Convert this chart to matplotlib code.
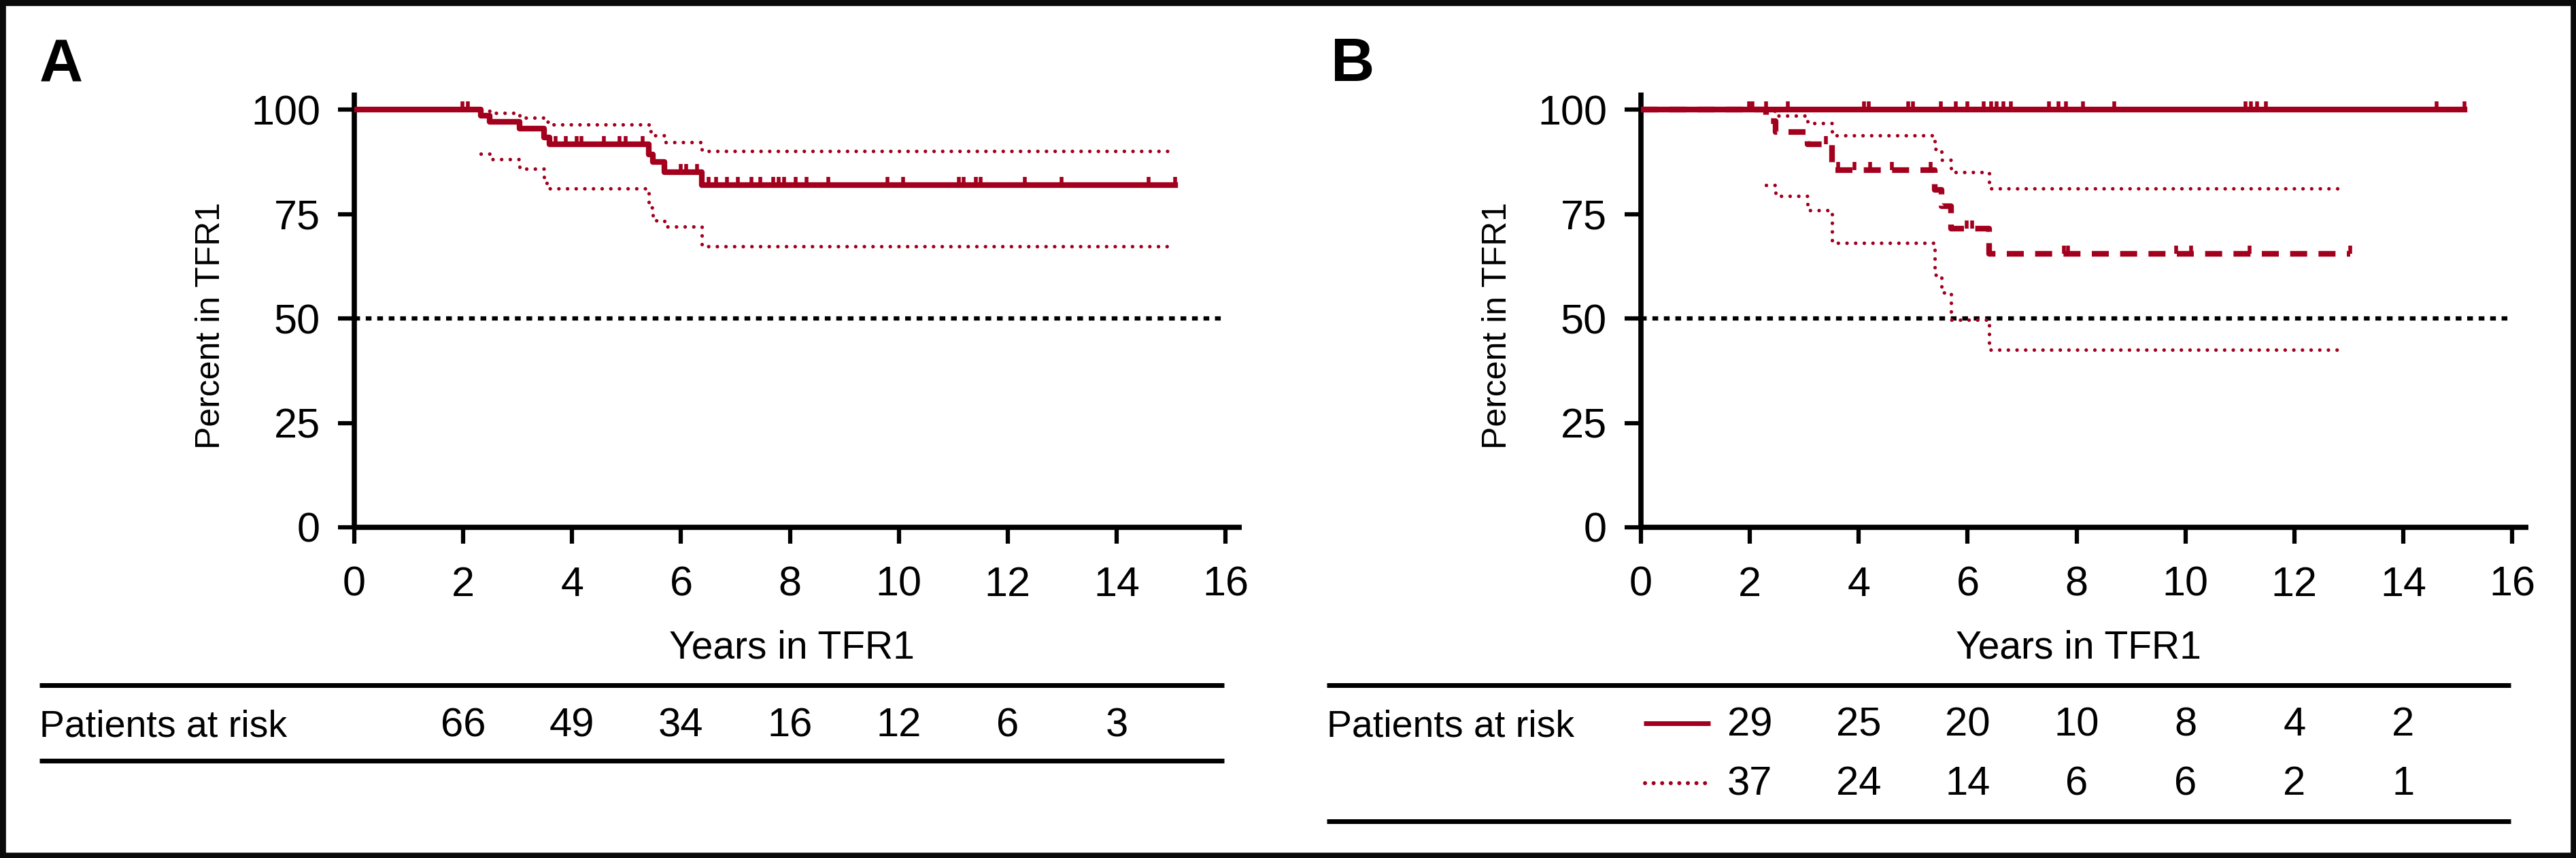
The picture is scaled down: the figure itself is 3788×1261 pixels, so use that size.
import numpy as np
from matplotlib import pyplot as plt
from matplotlib import font_manager
from matplotlib.lines import Line2D
from matplotlib.patches import Rectangle
from matplotlib.transforms import blended_transform_factory

RED = '#A3001E'

x_ticks = [0, 2, 4, 6, 8, 10, 12, 14, 16]
y_ticks = [0, 25, 50, 75, 100]

# patients at risk
risk_times = [2, 4, 6, 8, 10, 12, 14]
risk_a = [66, 49, 34, 16, 12, 6, 3]
risk_b_solid = [29, 25, 20, 10, 8, 4, 2]
risk_b_dotted = [37, 24, 14, 6, 6, 2, 1]

# panel A: all patients
a_times = [0, 2.32, 2.49, 3.03, 3.49, 3.59, 5.41, 5.48, 5.70, 6.38, 15.08]
a_surv = [100, 98.6, 97.0, 95.4, 93.3, 91.7, 89.2, 87.4, 85.0, 82.0, 82.0]
a_ci_times = [2.32, 2.49, 3.03, 3.49, 3.59, 5.41, 5.48, 5.70, 6.38, 15.03]
a_upper = [99.7, 99.2, 98.1, 97.0, 96.5, 94.8, 93.8, 92.2, 90.1, 90.1]
a_lower = [89.4, 88.1, 85.8, 82.4, 81.1, 76.6, 73.5, 72.0, 67.3, 67.3]
a_censor = [1.99, 2.08, 3.70, 3.89, 4.08, 4.17, 4.59, 4.87, 4.98, 5.29, 5.99, 6.10,
            6.30, 6.51, 6.65, 6.84, 7.05, 7.29, 7.46, 7.70, 7.79, 7.89, 8.11, 8.30,
            8.70, 9.79, 10.08, 11.10, 11.19, 11.41, 11.50, 12.31, 12.99, 14.59, 15.08]

# panel B: group 1 (solid) and group 2 (dashed + CI)
b1_times = [0, 15.12]
b1_surv = [100, 100]
b1_censor = [1.98, 2.05, 2.30, 2.70, 4.10, 4.19, 4.91, 5.00, 5.51, 5.78, 5.99, 6.30,
             6.43, 6.53, 6.66, 6.80, 7.50, 7.67, 7.81, 8.12, 8.69, 11.10, 11.20, 11.31,
             11.48, 14.61, 15.12]

b2_times = [0, 2.30, 2.47, 3.06, 3.51, 5.40, 5.52, 5.70, 6.40, 13.03]
b2_surv = [100, 97.3, 94.6, 91.7, 85.5, 80.8, 76.8, 71.5, 65.5, 65.5]
b2_ci_times = [2.30, 2.47, 3.06, 3.51, 5.40, 5.52, 5.70, 6.40, 12.9]
b2_upper = [99.6, 98.5, 96.8, 93.8, 90.6, 88.0, 85.0, 81.1, 81.1]
b2_lower = [81.9, 79.4, 75.9, 68.1, 60.5, 56.2, 49.7, 42.5, 42.5]
b2_censor = [3.40, 3.62, 3.92, 4.21, 4.61, 5.32, 5.98, 6.08, 7.77, 7.85, 9.83, 10.10,
             11.18, 13.03]

names = {f.name for f in font_manager.fontManager.ttflist}
if 'Liberation Sans Narrow' in names:
    ylab_font = dict(family=['Liberation Sans Narrow', 'Liberation Sans'], size=43)
else:
    ylab_font = dict(family=['Liberation Sans'], size=36)

plt.rcParams['font.family'] = ['Liberation Sans', 'DejaVu Sans']

DOT = (0, (0.01, 2.4))


def step_at(times, surv, t):
    i = np.searchsorted(times, t, side='right') - 1
    return np.asarray(surv)[i]


def draw_censor(ax, times, surv, censor):
    ys = [step_at(times, surv, t) for t in censor]
    ax.vlines(censor, ys, np.array(ys) + 1.9, color=RED, lw=4, zorder=4)


def setup_axes(ax):
    ax.set_xlim(0, 16.3)
    ax.set_ylim(0, 104)
    for s in ['top', 'right']:
        ax.spines[s].set_visible(False)
    for s in ['left', 'bottom']:
        ax.spines[s].set_linewidth(5.5)
        ax.spines[s].set_capstyle('butt')
    ax.set_xticks(x_ticks)
    ax.set_yticks(y_ticks)
    ax.tick_params(axis='both', direction='out', length=17, width=4.5, labelsize=44)
    ax.tick_params(axis='x', pad=24)
    ax.tick_params(axis='y', pad=19)
    ax.hlines(50, 0, 16, color='black', lw=4.5, linestyles=(0, (1.35, 1.35)), zorder=2)
    ax.text(8.04 / 16.3, -0.302, 'Years in TFR1', transform=ax.transAxes,
            ha='center', va='baseline', fontsize=41)
    ax.text(-0.1517, 0.4643, 'Percent in TFR1', transform=ax.transAxes,
            rotation=90, rotation_mode='anchor', ha='center', va='baseline', **ylab_font)


fig = plt.figure(figsize=(37.88, 12.61), dpi=100)
ax_a = fig.add_axes([0.13754, 0.38541, 0.34452, 0.50637])
ax_b = fig.add_axes([0.63701, 0.38541, 0.34452, 0.50637])
setup_axes(ax_a)
setup_axes(ax_b)

# Panel A
ax_a.step(a_ci_times, a_upper, where='post', color=RED, lw=3.8, linestyle=DOT,
          dash_capstyle='round', zorder=3)
ax_a.step(a_ci_times, a_lower, where='post', color=RED, lw=3.8, linestyle=DOT,
          dash_capstyle='round', zorder=3)
ax_a.step(a_times, a_surv, where='post', color=RED, lw=6, zorder=4)
draw_censor(ax_a, a_times, a_surv, a_censor)

# Panel B
ax_b.step(b2_ci_times, b2_upper, where='post', color=RED, lw=3.8, linestyle=DOT,
          dash_capstyle='round', zorder=3)
ax_b.step(b2_ci_times, b2_lower, where='post', color=RED, lw=3.8, linestyle=DOT,
          dash_capstyle='round', zorder=3)
ax_b.step(b2_times, b2_surv, where='post', color=RED, lw=6, linestyle=(0, (3.0, 2.0)),
          zorder=4)
draw_censor(ax_b, b2_times, b2_surv, b2_censor)
ax_b.step(b1_times, b1_surv, where='post', color=RED, lw=6, zorder=5)
draw_censor(ax_b, b1_times, b1_surv, b1_censor)

# panel letters
fig.text(0.01531, 0.9048, 'A', fontsize=64, fontweight='bold', ha='left', va='baseline')
fig.text(0.5166, 0.9056, 'B', fontsize=64, fontweight='bold', ha='left', va='baseline')

# risk tables
for x0, x1, y in [(0.01531, 0.4752, 0.2014), (0.01531, 0.4752, 0.1134),
                  (0.5150, 0.9747, 0.2014), (0.5150, 0.9747, 0.0428)]:
    fig.add_artist(Line2D([x0, x1], [y, y], transform=fig.transFigure, color='black',
                          lw=5, solid_capstyle='butt'))

fig.text(0.01531, 0.1419, 'Patients at risk', fontsize=40, ha='left', va='baseline')
fig.text(0.5150, 0.1419, 'Patients at risk', fontsize=40, ha='left', va='baseline')

tr_a = blended_transform_factory(ax_a.transData, fig.transFigure)
tr_b = blended_transform_factory(ax_b.transData, fig.transFigure)
for t, n in zip(risk_times, risk_a):
    fig.text(t, 0.1419, str(n), transform=tr_a, fontsize=43, ha='center', va='baseline')
for t, n in zip(risk_times, risk_b_solid):
    fig.text(t, 0.1427, str(n), transform=tr_b, fontsize=43, ha='center', va='baseline')
for t, n in zip(risk_times, risk_b_dotted):
    fig.text(t, 0.0737, str(n), transform=tr_b, fontsize=43, ha='center', va='baseline')

# legend samples next to group rows
fig.add_artist(Line2D([2417 / 3788, 2515 / 3788], [0.1570, 0.1570], transform=fig.transFigure,
                      color=RED, lw=5, solid_capstyle='butt'))
fig.add_artist(Line2D([2419 / 3788, 2508 / 3788], [0.0872, 0.0872], transform=fig.transFigure,
                      color=RED, lw=4.3, linestyle=(0, (0.01, 2.1)), dash_capstyle='round'))

# outer frame
fig.add_artist(Rectangle((0, 0), 1, 1, transform=fig.transFigure, fill=False,
                         edgecolor='#0a0a0a', lw=12))

fig.savefig('out.png', dpi=100)
